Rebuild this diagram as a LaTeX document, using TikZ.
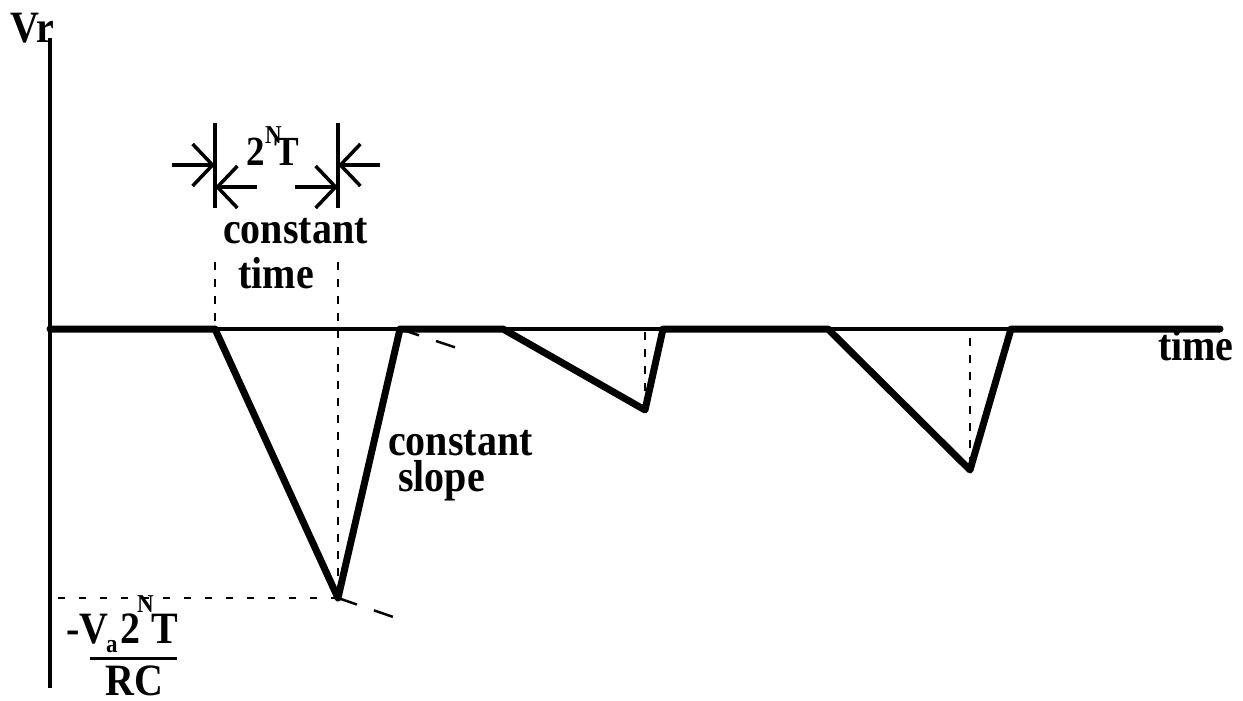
\documentclass[tikz,border=0pt]{standalone}
\usepackage{graphicx}
\usepackage{fontspec}
\setmainfont{Liberation Serif}
\usetikzlibrary{arrows.meta}
\newcommand{\vstretch}[1]{\scalebox{1}[1.12]{#1}}
\begin{document}
\begin{tikzpicture}[x=1pt,y=-1pt,
  wave/.style={line width=7pt, line join=round, line cap=round},
  baseln/.style={line width=3.5pt, line cap=round},
  axisline/.style={line width=4pt},
  guide/.style={line width=2pt, dash pattern=on 8pt off 9pt},
  hguide/.style={line width=2pt, dash pattern=on 7pt off 14pt},
  ext/.style={line width=2.5pt, dash pattern=on 20pt off 18pt},
  dimtick/.style={line width=3.5pt},
  dimarrow/.style={line width=3.5pt, -{Straight Barb[length=20pt,width=42pt,line width=3.5pt]}},
  lbl/.style={inner sep=0pt, anchor=base west, font=\bfseries\fontsize{40}{44}\selectfont},
  mid/.style={inner sep=0pt, anchor=base west, font=\bfseries\fontsize{37}{42}\selectfont},
  small/.style={inner sep=0pt, anchor=base west, font=\bfseries\fontsize{23}{26}\selectfont},
]
\useasboundingbox (0,0) rectangle (1243,701);
% key points
\coordinate (top) at (50,38);
\coordinate (bot) at (50,688);
\coordinate (o) at (50,329);
\coordinate (end) at (1220,329);
\coordinate (a1) at (215,329);
\coordinate (b1) at (338,598);
\coordinate (c1) at (400,329);
\coordinate (a2) at (503,329);
\coordinate (b2) at (645,410);
\coordinate (c2) at (663,329);
\coordinate (a3) at (828,329);
\coordinate (b3) at (970,470);
\coordinate (c3) at (1011,329);
\coordinate (e1) at (463,350);
\coordinate (e2) at (402,620);
\coordinate (g1) at (215,262);
\coordinate (g2) at (338,262);
\coordinate (g3) at (645,332);
\coordinate (g4) at (970,338);
\coordinate (h0) at (58,598);
% axes
\draw[axisline] (top) -- (bot);
\draw[baseln] (o) -- (end);
% guides
\draw[guide] (g1) -- (a1);
\draw[guide] (g2) -- (b1);
\draw[guide] (g3) -- (b2);
\draw[guide] (g4) -- (b3);
\draw[hguide] (h0) -- (b1);
\draw[ext] (c1) -- (e1);
\draw[ext] (b1) -- (e2);
% waveform
\draw[wave] (o) -- (a1) -- (b1) -- (c1) -- (a2) -- (b2) -- (c2) -- (a3) -- (b3) -- (c3) -- (end);
% dimension marks
\coordinate (d1t) at (215,123);
\coordinate (d1b) at (215,208);
\coordinate (d2t) at (338,123);
\coordinate (d2b) at (338,208);
\draw[dimtick] (d1t) -- (d1b);
\draw[dimtick] (d2t) -- (d2b);
\coordinate (p1) at (172,165);
\coordinate (q1) at (215,165);
\coordinate (p2) at (257,187);
\coordinate (q2) at (215,187);
\coordinate (p3) at (295,187);
\coordinate (q3) at (338,187);
\coordinate (p4) at (380,165);
\coordinate (q4) at (338,165);
\draw[dimarrow] (p1) -- (q1);
\draw[dimarrow] (p2) -- (q2);
\draw[dimarrow] (p3) -- (q3);
\draw[dimarrow] (p4) -- (q4);
% labels
\node[lbl] (vr) at (10,43) {\vstretch{Vr}};
\node[mid] (two) at (246,165) {\vstretch{2}};
\node[small] (nsup) at (265,143) {\vstretch{N}};
\node[mid] (tt) at (274,165) {\vstretch{T}};
\node[lbl] (ct) at (223,243) {\vstretch{constant}};
\node[lbl, anchor=base] (tm) at (276,288) {\vstretch{time}};
\node[lbl] (cs) at (388,455) {\vstretch{constant}};
\node[lbl] (sl) at (398,491) {\vstretch{slope}};
\node[lbl] (tx) at (1158,360) {\vstretch{time}};
% fraction label
\node[lbl] (mv) at (66,643) {\vstretch{-V}};
\node[small] (sa) at (106,652) {\vstretch{a}};
\node[lbl] (f2) at (120,643) {\vstretch{2}};
\node[small] (fn) at (137,612) {\vstretch{N}};
\node[lbl] (ft) at (151,643) {\vstretch{T}};
\coordinate (fb1) at (90,658);
\coordinate (fb2) at (177,658);
\draw[line width=3pt] (fb1) -- (fb2);
\node[lbl] (rc) at (105,695) {\vstretch{RC}};
\end{tikzpicture}
\end{document}
